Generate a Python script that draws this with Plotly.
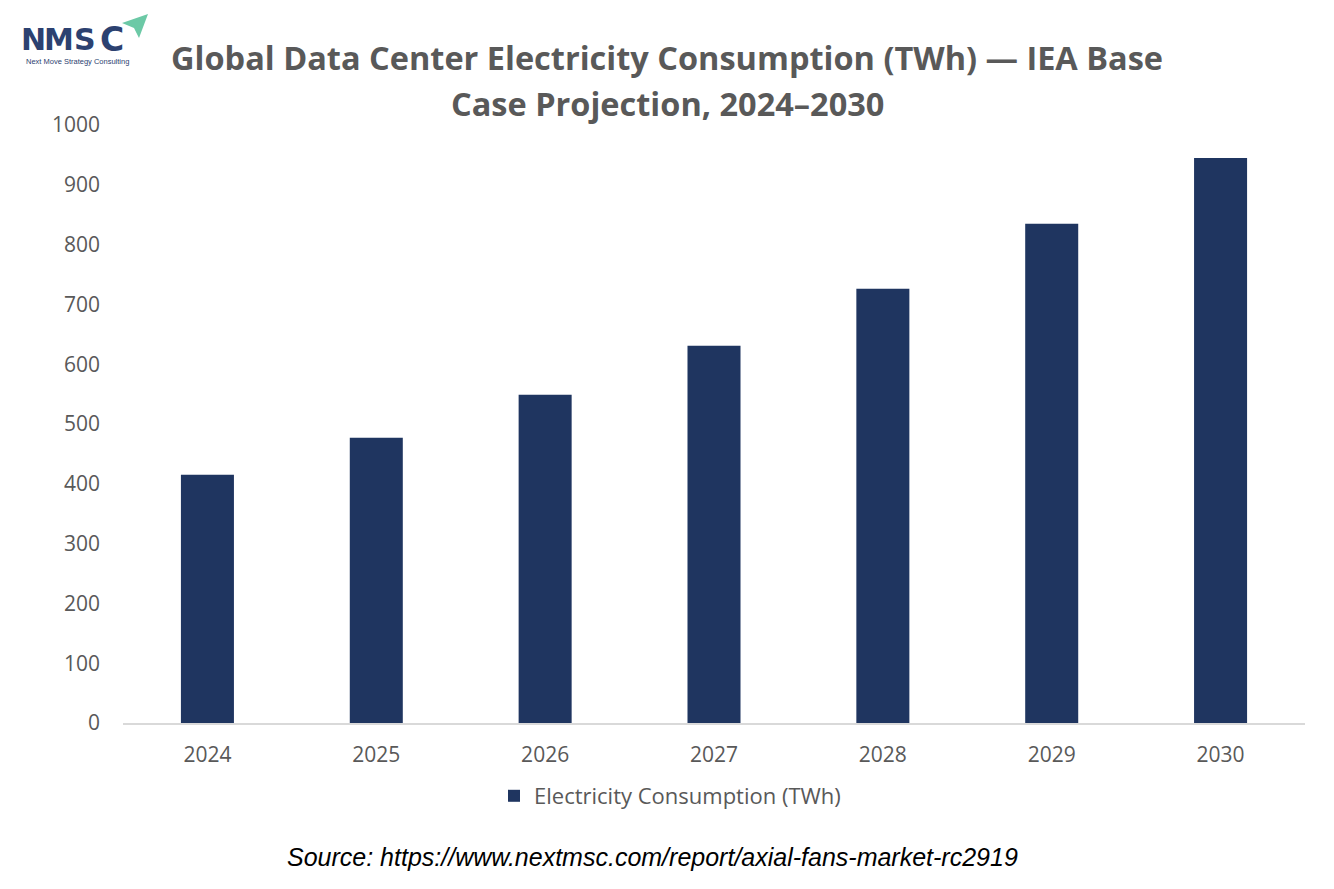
import plotly.graph_objects as go

years = ["2024", "2025", "2026", "2027", "2028", "2029", "2030"]
consumption_twh = [415, 477, 549, 631, 726, 835, 945]
series_name = "Electricity Consumption (TWh)"
title_line1 = "Global Data Center Electricity Consumption (TWh) — IEA Base"
title_line2 = "Case Projection, 2024–2030"
source_text = "Source: https://www.nextmsc.com/report/axial-fans-market-rc2919"

W, H = 1334, 889
OFF = 8  # page offset of the figure in the screenshot
# plot area in screen coordinates
SX0, SX1, SY0, SY1 = 123, 1305, 125, 723
L = SX0 - OFF
T = SY0 - OFF
R = W - (SX1 - OFF)
B = H - (SY1 - OFF)
PW, PH = W - L - R, H - T - B


def px(x):
    return (x - OFF - L) / PW


def py(y):
    return (H - B - (y - OFF)) / PH


BAR = "#1f3560"
GREY = "#595959"
LOGO = "#2c4170"

fig = go.Figure()
fig.add_trace(go.Bar(x=years, y=consumption_twh, name=series_name,
                     marker=dict(color=BAR, line=dict(width=0))))

fig.update_layout(
    width=W, height=H,
    margin=dict(l=L, r=R, t=T, b=B, autoexpand=False),
    paper_bgcolor="white", plot_bgcolor="white",
    bargap=0.686,
    showlegend=True,
    legend=dict(orientation="h", x=px(670), xanchor="center", y=py(796), yanchor="middle",
                font=dict(family="Open Sans", size=22, color=GREY), itemwidth=30),
    xaxis=dict(showgrid=False, showline=True, linecolor="#d9d9d9", linewidth=1.5,
               ticks="", tickfont=dict(family="Open Sans", size=21, color=GREY),
               ticklabelstandoff=12),
    yaxis=dict(range=[0, 1000], dtick=100, showgrid=False, zeroline=False, showline=False,
               ticks="", tickfont=dict(family="Open Sans", size=21, color=GREY),
               ticklabelstandoff=22),
)

annotations = [
    dict(text="<b>" + title_line1 + "</b>", x=px(667), y=py(57), xref="paper", yref="paper",
         xanchor="center", yanchor="middle", showarrow=False,
         font=dict(family="Open Sans", size=32.5, color=GREY)),
    dict(text="<b>" + title_line2 + "</b>", x=px(667), y=py(103), xref="paper", yref="paper",
         xanchor="center", yanchor="middle", showarrow=False,
         font=dict(family="Open Sans", size=32.5, color=GREY)),
    dict(text="<i>" + source_text + "</i>", x=px(652), y=py(857), xref="paper", yref="paper",
         xanchor="center", yanchor="middle", showarrow=False,
         font=dict(family="Liberation Sans", size=25, color="black")),
    dict(text="Next Move Strategy Consulting", x=px(24), y=py(62), xref="paper", yref="paper",
         xanchor="left", yanchor="middle", showarrow=False,
         font=dict(family="Liberation Sans", size=7.5, color=LOGO)),
]
for letter, cx, fs in zip("NMSC", [33.5, 58.5, 85, 112], [30, 30, 30, 33]):
    annotations.append(dict(text="<b>" + letter + "</b>", x=px(cx), y=py(40), xref="paper", yref="paper",
                            xanchor="center", yanchor="middle", showarrow=False,
                            font=dict(family="DejaVu Sans", size=fs, color=LOGO)))
fig.update_layout(annotations=annotations)

tri = [(122, 23), (148, 14), (139, 38), (134, 28)]
path = "M " + " L ".join(f"{px(a)},{py(b)}" for a, b in tri) + " Z"
fig.add_shape(type="path", path=path, xref="paper", yref="paper",
              fillcolor="#6cc9a6", line=dict(width=0))

fig.write_html("out.html")
